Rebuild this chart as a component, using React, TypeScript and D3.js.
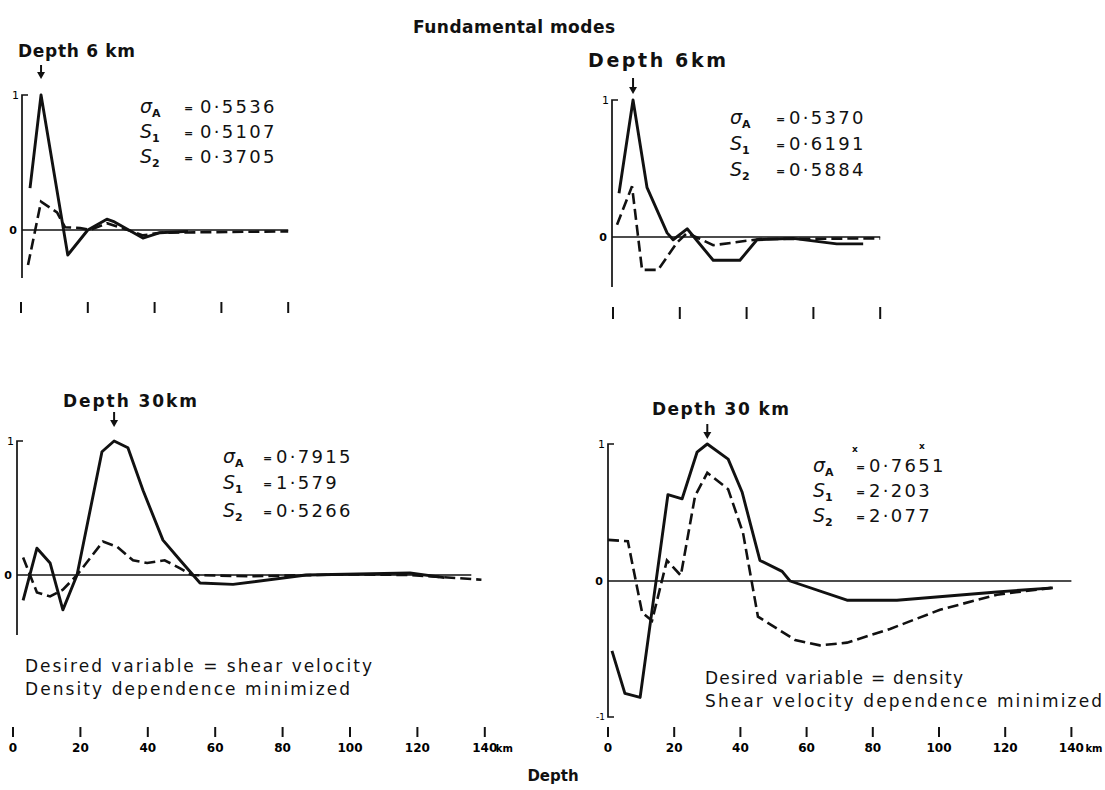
import React from "react";
import * as d3 from "d3";

type Pt = [number, number];

// Tick labels (km)
const topTicks = [0, 20, 40, 60, 80];
const depthTicks = [0, 20, 40, 60, 80, 100, 120, 140];

// Averaging kernels, target depth 6 km (depth km, amplitude)
const shallowLeftSolid: Pt[] = [
  [2.7, 0.31], [6, 1.0], [14, -0.185], [20, 0], [25.7, 0.08], [28, 0.06],
  [36.5, -0.06], [41.6, -0.02], [50, -0.01],
];
const shallowLeftDashed: Pt[] = [
  [2.1, -0.26], [6, 0.21], [10.8, 0.13], [13.2, 0.02], [17.7, 0.015], [20.7, 0],
  [25.7, 0.05], [29.6, 0.02], [36.5, -0.04], [41.6, -0.02], [80, -0.01],
];
const shallowRightSolid: Pt[] = [
  [1.8, 0.32], [6, 1.0], [10.2, 0.36], [16.2, 0.03], [18, -0.02], [22.2, 0.06],
  [30, -0.17], [38, -0.17], [43.1, -0.02], [53.9, -0.01], [67, -0.05], [74.9, -0.05],
];
const shallowRightDashed: Pt[] = [
  [1.2, 0.09], [5.7, 0.37], [8.7, -0.24], [13.5, -0.24], [19.2, -0.04], [22.2, 0.03],
  [30, -0.06], [44, -0.015], [80, -0.01],
];

// Averaging kernels, target depth 30 km
const deepLeftSolid: Pt[] = [
  [3, -0.19], [7.1, 0.2], [11, 0.09], [14.8, -0.26], [19, 0], [26.4, 0.92], [30, 1.0],
  [34.1, 0.95], [38.6, 0.63], [44.5, 0.26], [49.6, 0.11], [55.5, -0.06], [65.3, -0.07],
  [87, 0], [117.8, 0.015], [128, -0.02],
];
const deepLeftDashed: Pt[] = [
  [3, 0.13], [7.1, -0.13], [11, -0.16], [14.8, -0.11], [19, 0], [26.7, 0.25], [30.9, 0.21],
  [35.6, 0.11], [39.8, 0.09], [45, 0.11], [49.6, 0.05], [53, 0], [70, -0.01], [100, 0.005],
  [118, 0.0], [139, -0.035],
];
const deepRightSolid: Pt[] = [
  [1.2, -0.51], [5.1, -0.82], [9.7, -0.85], [18.1, 0.63], [22.4, 0.6], [26.9, 0.94], [30, 1.0],
  [36.3, 0.89], [40.5, 0.65], [45.9, 0.15], [52.6, 0.07], [55, 0], [72.2, -0.14], [87.3, -0.14],
  [117.5, -0.08], [134.4, -0.05],
];
const deepRightDashed: Pt[] = [
  [0, 0.3], [6, 0.29], [10.3, -0.23], [13.3, -0.29], [17.8, 0.15], [22, 0.04], [26.3, 0.62],
  [30, 0.79], [36.3, 0.67], [40.8, 0.35], [45.3, -0.26], [56.5, -0.43], [64, -0.47], [72.2, -0.45],
  [85.2, -0.35], [100.3, -0.21], [117.5, -0.1], [134, -0.05],
];

// Resolution measures printed beside each kernel
const shallowLeftStats = ["0·5536", "0·5107", "0·3705"];
const shallowRightStats = ["0·5370", "0·6191", "0·5884"];
const deepLeftStats = ["0·7915", "1·579", "0·5266"];
const deepRightStats = ["0·7651", "2·203", "2·077"];

const FONT = "'DejaVu Sans', Verdana, sans-serif";

type PanelProps = {
  solid: Pt[];
  dashed: Pt[];
  peak: number;
  maxDepth: number;
  x0: number;
  kmPx: number;
  axisX: number;
  y0: number;
  y1: number;
  axisBottom: number;
  zeroEnd: number;
  arrowTop: number;
  arrowBottom: number;
  bottomTick?: boolean;
  minusOne?: boolean;
};

function Panel(p: PanelProps) {
  const x = d3.scaleLinear().domain([0, p.maxDepth]).range([p.x0, p.x0 + p.maxDepth * p.kmPx]);
  const y = d3.scaleLinear().domain([0, 1]).range([p.y0, p.y1]);
  const line = d3
    .line<Pt>()
    .x((d) => x(d[0]))
    .y((d) => y(d[1]));
  const ax = p.axisX;
  const px = x(p.peak);
  let axisPath = `M${ax + 6},${y(1)} L${ax},${y(1)} L${ax},${p.axisBottom}`;
  if (p.bottomTick) axisPath += ` L${ax + 6},${p.axisBottom}`;
  return (
    <g>
      <path d={axisPath} fill="none" stroke="#111" strokeWidth={1.7} />
      <line x1={ax} x2={x(p.zeroEnd)} y1={y(0)} y2={y(0)} stroke="#111" strokeWidth={1.6} />
      <text x={ax - 3} y={y(1) + 4} fontSize={11} textAnchor="end" fontFamily={FONT}>1</text>
      <text x={ax - 5} y={y(0) + 4} fontSize={11} fontWeight="bold" textAnchor="end" fontFamily={FONT}>0</text>
      {p.minusOne && (
        <text x={ax - 3} y={p.axisBottom + 3} fontSize={9} textAnchor="end" fontFamily={FONT}>-1</text>
      )}
      <path d={line(p.dashed) || ""} fill="none" stroke="#111" strokeWidth={2.6} strokeDasharray="11 5" />
      <path d={line(p.solid) || ""} fill="none" stroke="#111" strokeWidth={2.9} strokeLinejoin="round" />
      <line x1={px} x2={px} y1={p.arrowTop} y2={p.arrowBottom - 5} stroke="#111" strokeWidth={2} />
      <path
        d={`M${px - 4},${p.arrowBottom - 7} L${px + 4},${p.arrowBottom - 7} L${px},${p.arrowBottom} Z`}
        fill="#111"
      />
    </g>
  );
}

function Stats(props: { vals: string[]; lx: number; ex: number; vx: number; base: number[] }) {
  const { vals, lx, ex, vx, base } = props;
  const labels = [
    ["σ", "A"],
    ["S", "1"],
    ["S", "2"],
  ];
  return (
    <g fontFamily={FONT} fill="#111">
      {vals.map((v, i) => (
        <g key={i}>
          <text x={lx} y={base[i]} fontSize={19} fontStyle="italic">
            {labels[i][0]}
            <tspan fontSize={11} dy={4} fontStyle="normal" fontWeight="bold">{labels[i][1]}</tspan>
          </text>
          <text x={ex} y={base[i] - 1} fontSize={11} fontWeight="bold">=</text>
          <text x={vx} y={base[i]} fontSize={18} letterSpacing={2.3}>{v}</text>
        </g>
      ))}
    </g>
  );
}

function TickRow(props: { ticks: number[]; x0: number; kmPx: number; y: number; len: number; labels: boolean; unitGap?: boolean }) {
  const { ticks, x0, kmPx, y, len, labels, unitGap } = props;
  const sc = d3.scaleLinear().domain([0, 1]).range([x0, x0 + kmPx]);
  return (
    <g fontFamily={FONT}>
      {ticks.map((t, i) => (
        <g key={t}>
          <line x1={sc(t)} x2={sc(t)} y1={y} y2={y + len} stroke="#111" strokeWidth={2} />
          {labels && (
            <text x={sc(t)} y={y + 25} fontSize={12} fontWeight="bold" textAnchor="middle">
              {t}
            </text>
          )}
          {labels && i === ticks.length - 1 && (
            <text x={sc(t) + 11 + (unitGap ? 3 : 0)} y={y + 25} fontSize={10} fontWeight="bold">km</text>
          )}
        </g>
      ))}
    </g>
  );
}

export default function App() {
  return (
    <svg
      width={1105}
      height={790}
      viewBox="0 0 1105 790"
      style={{ position: "absolute", left: 0, top: 0, background: "#fff" }}
    >
      <rect width={1105} height={790} fill="#fff" />
      <g fontFamily={FONT} fill="#111">
        <text x={413} y={33} fontSize={17} fontWeight="bold" textLength={202} lengthAdjust="spacing">
          Fundamental modes
        </text>
        <text x={18} y={57} fontSize={17} fontWeight="bold" textLength={117} lengthAdjust="spacing">
          Depth 6 km
        </text>
        <text x={588} y={67} fontSize={19} fontWeight="bold" textLength={138} lengthAdjust="spacing">
          Depth 6km
        </text>
        <text x={63} y={407} fontSize={17} fontWeight="bold" textLength={134} lengthAdjust="spacing">
          Depth 30km
        </text>
        <text x={652} y={415} fontSize={17} fontWeight="bold" textLength={137} lengthAdjust="spacing">
          Depth 30 km
        </text>
        <text x={25} y={672} fontSize={17} textLength={347} lengthAdjust="spacing">
          Desired variable = shear velocity
        </text>
        <text x={25} y={695} fontSize={17} textLength={325} lengthAdjust="spacing">
          Density dependence minimized
        </text>
        <text x={705} y={684} fontSize={17} textLength={258} lengthAdjust="spacing">
          Desired variable = density
        </text>
        <text x={705} y={707} fontSize={17} textLength={397} lengthAdjust="spacing">
          Shear velocity dependence minimized
        </text>
        <text x={553} y={781} fontSize={15} fontWeight="bold" textAnchor="middle">
          Depth
        </text>
        <text x={852} y={452} fontSize={9} fontWeight="bold">x</text>
        <text x={919} y={449} fontSize={9} fontWeight="bold">x</text>
      </g>

      <Panel
        solid={shallowLeftSolid}
        dashed={shallowLeftDashed}
        peak={6}
        maxDepth={80}
        x0={21}
        kmPx={3.34}
        axisX={22}
        y0={230}
        y1={95}
        axisBottom={278}
        zeroEnd={80}
        arrowTop={65}
        arrowBottom={79}
      />
      <Panel
        solid={shallowRightSolid}
        dashed={shallowRightDashed}
        peak={6}
        maxDepth={80}
        x0={613}
        kmPx={3.34}
        axisX={612}
        y0={237}
        y1={100}
        axisBottom={287}
        zeroEnd={80}
        arrowTop={78}
        arrowBottom={94}
      />
      <Panel
        solid={deepLeftSolid}
        dashed={deepLeftDashed}
        peak={30}
        maxDepth={140}
        x0={13}
        kmPx={3.37}
        axisX={17}
        y0={575}
        y1={441}
        axisBottom={635}
        zeroEnd={136}
        arrowTop={412}
        arrowBottom={427}
      />
      <Panel
        solid={deepRightSolid}
        dashed={deepRightDashed}
        peak={30}
        maxDepth={140}
        x0={608}
        kmPx={3.31}
        axisX={608}
        y0={581}
        y1={444}
        axisBottom={717}
        zeroEnd={140}
        arrowTop={424}
        arrowBottom={439}
        bottomTick
        minusOne
      />

      <Stats vals={shallowLeftStats} lx={140} ex={184} vx={200} base={[113, 138, 163]} />
      <Stats vals={shallowRightStats} lx={730} ex={776} vx={789} base={[124, 150, 176]} />
      <Stats vals={deepLeftStats} lx={223} ex={263} vx={276} base={[463, 489, 517]} />
      <Stats vals={deepRightStats} lx={813} ex={856} vx={869} base={[472, 497, 522]} />

      <TickRow ticks={topTicks} x0={21} kmPx={3.34} y={302} len={11} labels={false} />
      <TickRow ticks={topTicks} x0={613} kmPx={3.34} y={307} len={12} labels={false} />
      <TickRow ticks={depthTicks} x0={13} kmPx={3.37} y={727} len={10} labels />
      <TickRow ticks={depthTicks} x0={608} kmPx={3.31} y={727} len={10} labels unitGap />
    </svg>
  );
}
